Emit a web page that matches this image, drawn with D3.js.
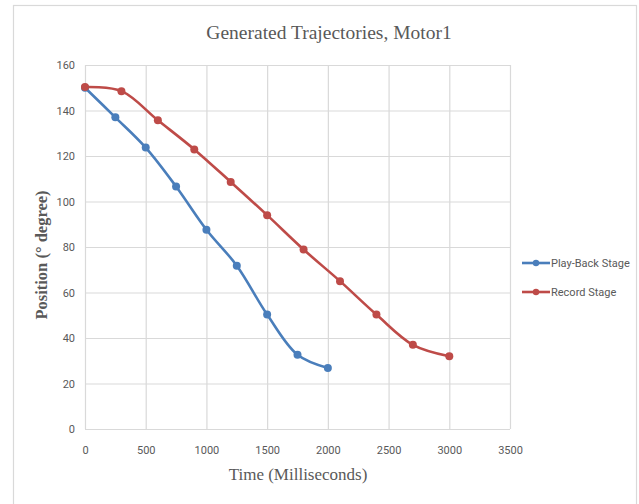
<!DOCTYPE html>
<html>
<head>
<meta charset="utf-8">
<script src="https://cdn.jsdelivr.net/npm/d3@7"></script>
<style>
  html, body { margin: 0; padding: 0; background: #fff; }
  svg { display: block; }
</style>
</head>
<body>
<script>
// Motor1 trajectory samples (time in ms, position in degrees)
const playBackTime = [0, 250, 500, 750, 1000, 1250, 1500, 1750, 2000];
const playBackPos  = [150, 137, 123.7, 106.6, 87.6, 71.8, 50.3, 32.6, 26.8];
const recordTime   = [0, 300, 600, 900, 1200, 1500, 1800, 2100, 2400, 2700, 3000];
const recordPos    = [150.3, 148.5, 135.7, 122.9, 108.6, 94, 78.9, 65, 50.3, 37, 32];
const xTicks = [0, 500, 1000, 1500, 2000, 2500, 3000, 3500];
const yTicks = [0, 20, 40, 60, 80, 100, 120, 140, 160];
const seriesNames = ["Play-Back Stage", "Record Stage"];
const seriesColors = ["#4A7EBB", "#BE4B48"];

const W = 639, H = 504;
const plot = { left: 85, right: 510, top: 65, bottom: 429 };

const svg = d3.select("body").append("svg").attr("width", W).attr("height", H);

// chart frame
svg.append("rect")
  .attr("x", 13.5).attr("y", 5.5).attr("width", 623).attr("height", 520)
  .attr("fill", "#fff").attr("stroke", "#d9d9d9").attr("stroke-width", 1.2);

const x = d3.scaleLinear().domain([0, 3500]).range([plot.left, plot.right]);
const y = d3.scaleLinear().domain([0, 160]).range([plot.bottom, plot.top]);

const tickFont = "Roboto, 'Open Sans', sans-serif";
const serif = "'Liberation Serif', 'Times New Roman', serif";

// gridlines
const grid = svg.append("g");
grid.selectAll("line.h").data(yTicks).join("line")
  .attr("x1", plot.left).attr("x2", plot.right)
  .attr("y1", d => y(d) + 0.5).attr("y2", d => y(d) + 0.5)
  .attr("stroke", "#d9d9d9").attr("stroke-width", 1.2);
grid.selectAll("line.v").data(xTicks).join("line")
  .attr("y1", plot.top).attr("y2", plot.bottom)
  .attr("x1", d => x(d) + 0.5).attr("x2", d => x(d) + 0.5)
  .attr("stroke", "#d9d9d9").attr("stroke-width", 1.2);

// axes (labels only, Excel-style)
const xAxis = svg.append("g").attr("transform", `translate(0,${plot.bottom + 11})`)
  .call(d3.axisBottom(x).tickValues(xTicks).tickSize(0).tickPadding(6).tickFormat(d3.format("d")));
xAxis.select(".domain").remove();
xAxis.selectAll("text").attr("fill", "#595959").attr("font-size", 11).attr("font-family", tickFont);

const yAxis = svg.append("g").attr("transform", `translate(${plot.left - 10},0)`)
  .call(d3.axisLeft(y).tickValues(yTicks).tickSize(0).tickPadding(0).tickFormat(d3.format("d")));
yAxis.select(".domain").remove();
yAxis.selectAll("text").attr("fill", "#595959").attr("font-size", 11).attr("font-family", tickFont);

// title and axis titles
svg.append("text").attr("x", 329).attr("y", 39).attr("text-anchor", "middle")
  .attr("font-family", serif).attr("font-size", 19.5).attr("fill", "#595959")
  .text("Generated Trajectories, Motor1");

svg.append("text").attr("x", 298).attr("y", 480).attr("text-anchor", "middle")
  .attr("font-family", serif).attr("font-size", 17).attr("fill", "#595959")
  .text("Time (Milliseconds)");

svg.append("text")
  .attr("transform", `translate(47,${(plot.top + plot.bottom) / 2 + 8}) rotate(-90)`)
  .attr("text-anchor", "middle")
  .attr("font-family", serif).attr("font-size", 16.5).attr("font-weight", "bold").attr("fill", "#595959")
  .text("Position (° degree)");

// series
const series = [
  { name: seriesNames[0], color: seriesColors[0], pts: playBackTime.map((t, i) => [t, playBackPos[i]]) },
  { name: seriesNames[1], color: seriesColors[1], pts: recordTime.map((t, i) => [t, recordPos[i]]) }
];

const line = d3.line()
  .x(d => x(d[0])).y(d => y(d[1]))
  .curve(d3.curveCatmullRom.alpha(0.5));

series.forEach(s => {
  svg.append("path").datum(s.pts)
    .attr("d", line).attr("fill", "none")
    .attr("stroke", s.color).attr("stroke-width", 2.6)
    .attr("stroke-linejoin", "round").attr("stroke-linecap", "round");
  svg.append("g").selectAll("circle").data(s.pts).join("circle")
    .attr("cx", d => x(d[0])).attr("cy", d => y(d[1])).attr("r", 4)
    .attr("fill", s.color);
});

// legend
const legend = svg.append("g");
series.forEach((s, i) => {
  const ly = 263 + i * 29;
  legend.append("line").attr("x1", 522).attr("x2", 550).attr("y1", ly).attr("y2", ly)
    .attr("stroke", s.color).attr("stroke-width", 2.6);
  legend.append("circle").attr("cx", 536).attr("cy", ly).attr("r", 3.2).attr("fill", s.color);
  legend.append("text").attr("x", 551).attr("y", ly + 4)
    .attr("font-family", tickFont).attr("font-size", 11).attr("fill", "#595959")
    .text(s.name);
});
</script>
</body>
</html>
